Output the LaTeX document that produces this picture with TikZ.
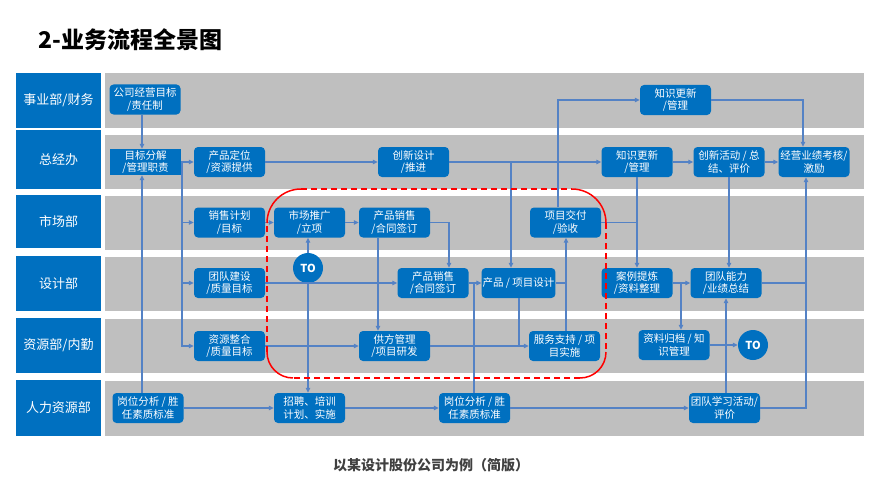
\documentclass[tikz,border=0pt]{standalone}
\usepackage{fontspec}
\setmainfont{Noto Sans CJK SC}
\usetikzlibrary{arrows.meta}
\definecolor{nodeblue}{RGB}{0,112,192}
\definecolor{lanegray}{RGB}{191,191,191}
\definecolor{linkblue}{RGB}{84,130,197}
\definecolor{captiongray}{RGB}{64,64,64}
\begin{document}
\begin{tikzpicture}[x=1pt,y=-1pt,
  box/.style={fill=nodeblue, rounded corners=4pt, text=white, minimum width=71pt, minimum height=30pt, inner sep=1pt, align=center, font=\fontsize{10.5}{12.5}\selectfont},
  boxsq/.style={box, rounded corners=0pt, minimum height=26pt},
  tocirc/.style={circle, fill=nodeblue, text=white, minimum size=30pt, inner sep=0pt, font=\bfseries\fontsize{11}{12}\selectfont},
  lanehead/.style={fill=nodeblue, text=white, minimum width=85pt, inner sep=0pt, font=\fontsize{13}{15}\selectfont},
  arr/.style={linkblue, line width=1.2pt, -{Triangle[length=5pt,width=4.5pt]}},
  link/.style={linkblue, line width=1.2pt},
  redsolid/.style={red, line width=1.5pt},
  reddash/.style={red, line width=1.5pt, dash pattern=on 6pt off 4pt}
]
\useasboundingbox (0,0) rectangle (881,495);
% lanes
\fill[lanegray] (105,73) rectangle (864,128);
\fill[lanegray] (105,135) rectangle (864,189);
\fill[lanegray] (105,196) rectangle (864,250);
\fill[lanegray] (105,257) rectangle (864,311);
\fill[lanegray] (105,319) rectangle (864,373);
\fill[lanegray] (105,381) rectangle (864,436);
\node[lanehead, minimum height=55pt] (h1) at (58.5,100.5) {事业部/财务};
\node[lanehead, minimum height=59pt] (h2) at (58.5,159.5) {总经办};
\node[lanehead, minimum height=53pt] (h3) at (58.5,221.5) {市场部};
\node[lanehead, minimum height=55pt] (h4) at (58.5,283.5) {设计部};
\node[lanehead, minimum height=55pt] (h5) at (58.5,345.5) {资源部/内勤};
\node[lanehead, minimum height=56pt] (h6) at (58.5,408) {人力资源部};
% title and caption
\node[anchor=west, font=\bfseries\fontsize{23}{27}\selectfont] (title) at (35,40) {2-业务流程全景图};
\node[font=\bfseries\fontsize{14}{16}\selectfont, text=captiongray] (cap) at (431,465) {以某设计股份公司为例（简版）};
% vertical trunk positions
\coordinate (v142) at (142,0);
\coordinate (v182) at (182,0);
\coordinate (v378) at (378,0);
\coordinate (v449) at (449,0);
\coordinate (v474) at (474,0);
\coordinate (v511) at (511,0);
\coordinate (v519) at (519,0);
\coordinate (v558) at (558,0);
\coordinate (v566) at (566,0);
\coordinate (v681) at (681,0);
\coordinate (v726) at (726,0);
\coordinate (v729) at (729,0);
\coordinate (v803) at (803,0);
\coordinate (v806) at (806,0);
% nodes
\node[box] (n1) at (145,99.5) {公司经营目标\\/责任制};
\node[box] (kt) at (675.5,100) {知识更新\\/管理};
\node[boxsq] (g) at (145.5,162) {目标分解\\/管理职责};
\node[box] (cp) at (229.5,162) {产品定位\\/资源提供};
\node[box] (cx) at (413.5,162) {创新设计\\/推进};
\node[box] (zs) at (637,162) {知识更新\\/管理};
\node[box] (ch) at (729,162) {创新活动 / 总\\结、评价};
\node[box] (jy) at (814,162) {经营业绩考核/\\激励};
\node[box] (xs) at (229.5,222.5) {销售计划\\/目标};
\node[box] (sc) at (309.5,222.5) {市场推广\\/立项};
\node[box] (pa) at (394.5,222.5) {产品销售\\/合同签订};
\node[box] (jf) at (565.5,222.5) {项目交付\\/验收};
\node[box] (td) at (229.5,283) {团队建设\\/质量目标};
\node[tocirc] (to1) at (308,268) {TO};
\node[box] (pb) at (433,283) {产品销售\\/合同签订};
\node[box] (pd) at (518.5,283) {产品 / 项目设计};
\node[box] (al) at (637,283) {案例提炼\\/资料整理};
\node[box] (tn) at (726,283) {团队能力\\/业绩总结};
\node[box] (zy) at (229.5,346) {资源整合\\/质量目标};
\node[box] (gf) at (394.5,346) {供方管理\\/项目研发};
\node[box] (fw) at (564.5,346) {服务支持 / 项\\目实施};
\node[box] (zl) at (674,345) {资料归档 / 知\\识管理};
\node[tocirc] (to2) at (753,345) {TO};
\node[box] (ga) at (148,408) {岗位分析 / 胜\\任素质标准};
\node[box] (zp) at (309.5,408) {招聘、培训\\计划、实施};
\node[box] (gb) at (474.5,408) {岗位分析 / 胜\\任素质标准};
\node[box] (tx) at (724.5,408) {团队学习活动/\\评价};
% connectors
\draw[arr] (v142 |- n1.south) -- (v142 |- g.north);
\draw[arr] (v142 |- ga.north) -- (v142 |- g.south);
\draw[arr] (g.east) -- (cp.west);
\draw[arr] (v182 |- g.east) |- (xs.west);
\draw[arr] (v182 |- g.east) |- (td.west);
\draw[arr] (v182 |- g.east) |- (zy.west);
\draw[arr] (cp.east) -- (cx.west);
\draw[arr] (cx.east) -- (zs.west);
\draw[arr] (v511 |- cx.east) -- (v511 |- pd.north);
\draw[arr] (v558 |- jf.north) |- (kt.west);
\draw[arr] (kt.east) -| (v803 |- jy.north);
\draw[arr] (zs.east) -- (ch.west);
\draw[arr] (ch.east) -- (jy.west);
\draw[arr] (zs.south) -- (al.north);
\draw[link] (jf.east) -- (zs.south |- jf.east);
\draw[arr] (v729 |- ch.south) -- (v729 |- tn.north);
\draw[arr] (tx.east) -| (v806 |- jy.south);
\draw[link] (tn.east) -- (v806 |- tn.east);
\draw[arr] (al.east) -- (tn.west);
\draw[arr] (v681 |- al.east) -- (v681 |- zl.north);
\draw[arr] (v726 |- tx.north) -- (v726 |- tn.south);
\draw[arr] (zl.east) -- (to2.west);
\draw[arr] (xs.east) -- (sc.west);
\draw[arr] (sc.east) -- (pa.west);
\draw[arr] (pa.east) -| (v449 |- pb.north);
\draw[arr] (to1.north) -- (to1 |- sc.south);
\draw[arr] (to1.south) -- (to1 |- zp.north);
\draw[arr] (td.east) -- (pb.west);
\draw[arr] (v378 |- pa.south) -- (v378 |- gf.north);
\draw[arr] (pb.east) -- (pd.west);
\draw[link] (v474 |- pb.east) -- (v474 |- gb.north);
\draw[arr] (v566 |- fw.north) -- (v566 |- jf.south);
\draw[link] (pd.east) -- (v566 |- pd.east);
\draw[link] (v519 |- pd.south) -- (v519 |- fw.west);
\draw[arr] (gf.east) -- (fw.west);
\draw[arr] (zy.east) -- (gf.west);
\draw[arr] (ga.east) -- (zp.west);
\draw[arr] (zp.east) -- (gb.west);
\draw[arr] (gb.east) -- (tx.west);
% red dashed focus frame
\draw[reddash] (301,189) -- (572,189);
\draw[reddash] (606,223) -- (606,352);
\draw[reddash] (580,378) -- (293,378);
\draw[reddash] (267,352) -- (267,223);
\draw[redsolid] (267,223) .. controls (267,204.2) and (282.2,189) .. (301,189);
\draw[redsolid] (572,189) .. controls (590.8,189) and (606,204.2) .. (606,223);
\draw[redsolid] (606,352) .. controls (606,366.4) and (594.4,378) .. (580,378);
\draw[redsolid] (293,378) .. controls (278.6,378) and (267,366.4) .. (267,352);
\end{tikzpicture}
\end{document}
